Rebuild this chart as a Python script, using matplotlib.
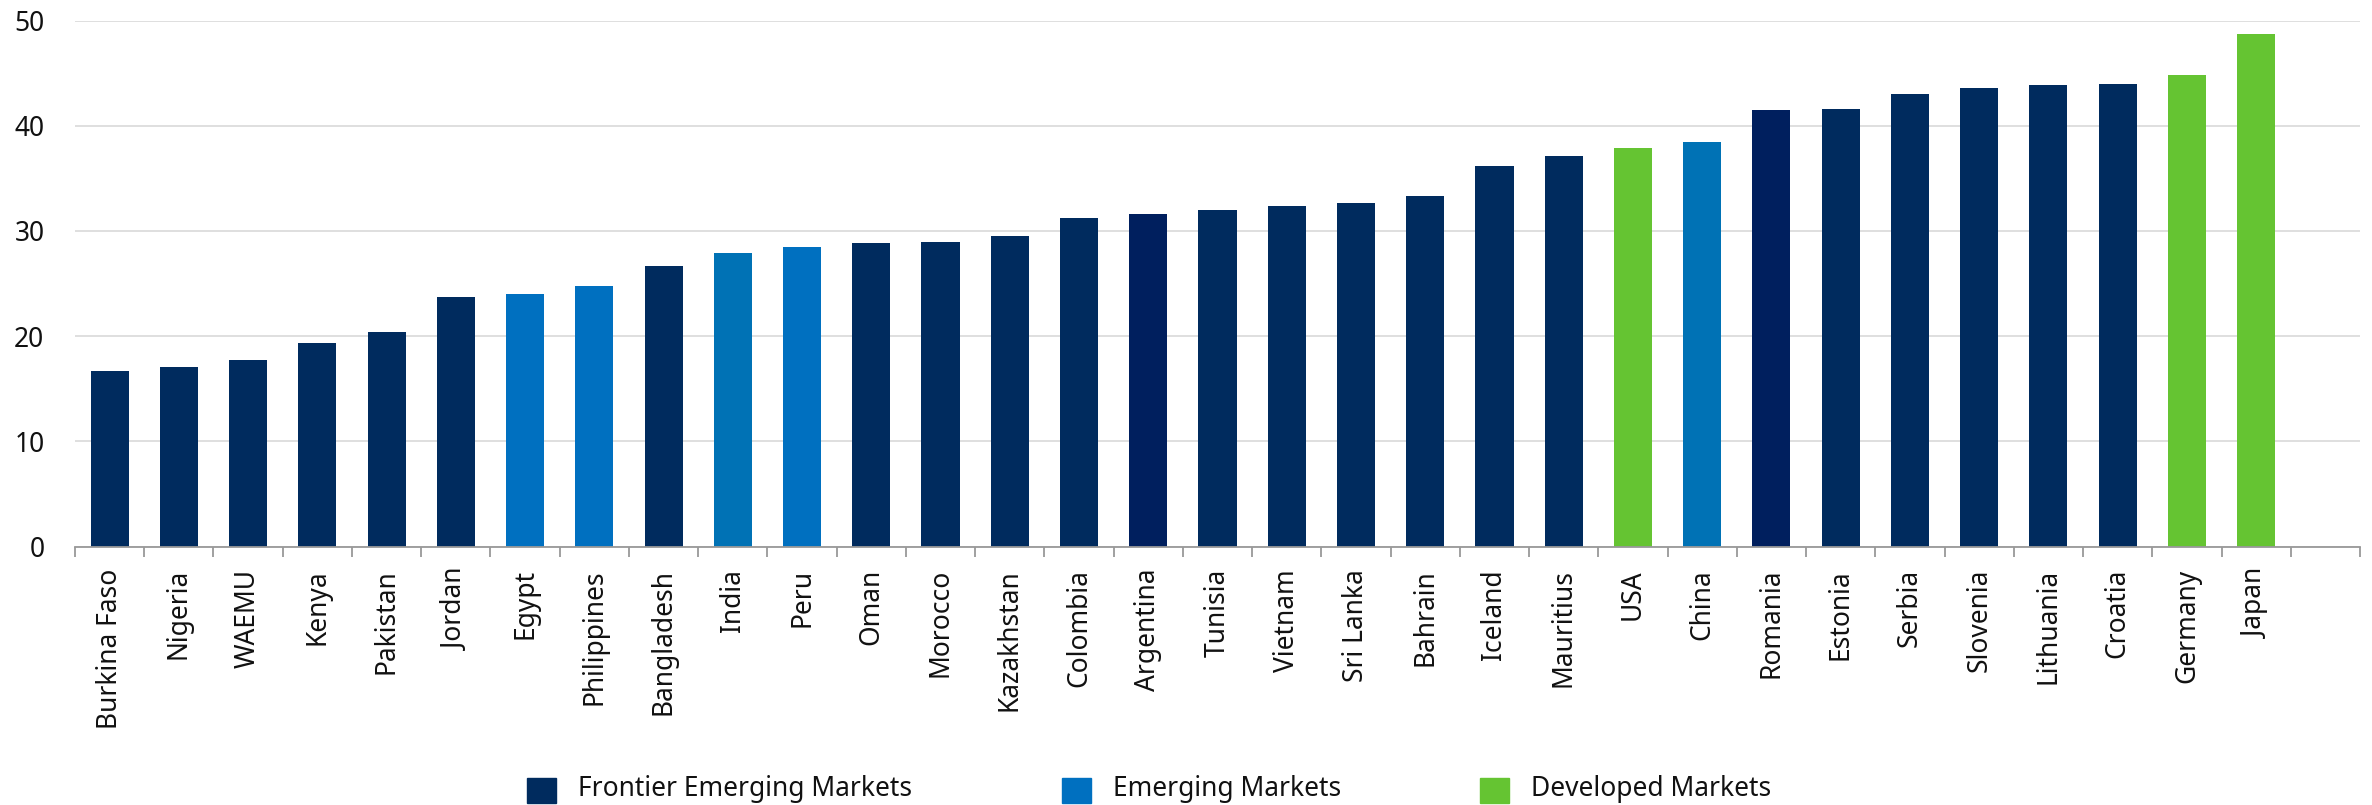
import matplotlib.pyplot as plt
from matplotlib.patches import Rectangle
import numpy as np

plt.rcParams['font.family'] = ['Noto Sans', 'DejaVu Sans']

countries = ['Burkina Faso', 'Nigeria', 'WAEMU', 'Kenya', 'Pakistan', 'Jordan', 'Egypt',
             'Philippines', 'Bangladesh', 'India', 'Peru', 'Oman', 'Morocco', 'Kazakhstan',
             'Colombia', 'Argentina', 'Tunisia', 'Vietnam', 'Sri Lanka', 'Bahrain', 'Iceland',
             'Mauritius', 'USA', 'China', 'Romania', 'Estonia', 'Serbia', 'Slovenia',
             'Lithuania', 'Croatia', 'Germany', 'Japan']
values = [16.7, 17.1, 17.7, 19.4, 20.4, 23.7, 24.0, 24.8, 26.7, 27.9, 28.5, 28.9, 28.95,
          29.5, 31.2, 31.6, 32.0, 32.4, 32.7, 33.3, 36.2, 37.1, 37.9, 38.5, 41.5, 41.6,
          43.0, 43.6, 43.9, 44.0, 44.8, 48.7]
# F = frontier emerging, E = emerging, D = developed
groups = ['F', 'F', 'F', 'F', 'F', 'F', 'E', 'E', 'F', 'E', 'E', 'F', 'F', 'F', 'F', 'F',
          'F', 'F', 'F', 'F', 'F', 'F', 'D', 'E', 'F', 'F', 'F', 'F', 'F', 'F', 'D', 'D']
legend_labels = ['Frontier Emerging Markets', 'Emerging Markets', 'Developed Markets']

navy = '#002B5E'
blue = '#0070C0'
green = '#65C432'
colors = {'F': navy, 'E': blue, 'D': green}
# a couple of bars in the source are drawn in a slightly different shade
bar_colors = [colors[g] for g in groups]
bar_colors[countries.index('Argentina')] = '#001F5E'
bar_colors[countries.index('Romania')] = '#001F5E'
bar_colors[countries.index('India')] = '#0072B5'
bar_colors[countries.index('China')] = '#0072B5'

fig = plt.figure(figsize=(23.72, 8.05), dpi=100)
ax = fig.add_axes([75 / 2372, (805 - 546.7) / 805, (2360 - 75) / 2372, (546.7 - 20.5) / 805])

x = np.arange(len(countries))
ax.bar(x, values, width=0.55, color=bar_colors, zorder=3)

ax.set_ylim(0, 50)
ax.set_yticks(np.arange(0, 51, 10))
ax.set_xlim(-0.5, len(countries) + 0.5)
ax.set_xticks(x)
ax.set_xticklabels(countries, rotation=90)
ax.set_xticks(np.arange(-0.5, len(countries) + 1), minor=True)

ax.grid(axis='y', color='#d9d9d9', linewidth=1.2, zorder=0)
for s in ['top', 'right', 'left']:
    ax.spines[s].set_visible(False)
ax.spines['bottom'].set_color('#999999')
ax.spines['bottom'].set_linewidth(1.3)
ax.spines['bottom'].set_zorder(4)

ax.tick_params(axis='y', length=0, pad=22, labelsize=19, labelcolor='#111111')
ax.tick_params(axis='x', which='major', length=0, pad=16, labelsize=19, labelcolor='#111111')
ax.tick_params(axis='x', which='minor', length=7, width=1.3, color='#999999')

# legend laid out like the source: fixed slots along the bottom
legend_x = [527, 1062, 1480]
for lx, lab, c in zip(legend_x, legend_labels, [navy, blue, green]):
    fig.add_artist(Rectangle((lx / 2372, (805 - 803) / 805), 29 / 2372, 25 / 805,
                             transform=fig.transFigure, color=c))
    fig.text((lx + 51) / 2372, (805 - 789) / 805, lab, fontsize=19, va='center',
             color='#111111')

plt.savefig('out.png', dpi=100)
